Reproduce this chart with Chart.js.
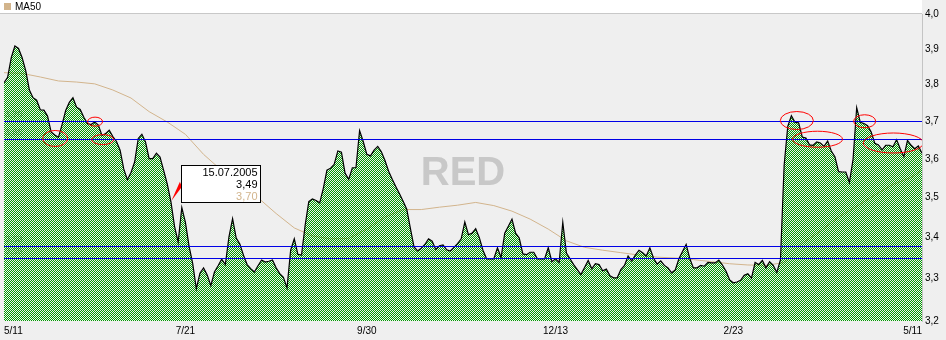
<!DOCTYPE html>
<html>
<head>
<meta charset="utf-8">
<title>RED</title>
<script src="https://cdn.jsdelivr.net/npm/chart.js@4.4.1/dist/chart.umd.min.js"></script>
<style>
html, body { margin: 0; padding: 0; background: #efefef; }
#wrap { width: 946px; height: 340px; }
canvas { display: block; }
</style>
</head>
<body>
<div id="wrap"><canvas id="redChart" width="946" height="340"></canvas></div>
<script>
// daily closes 11.05.2005 - 11.05.2006
var closes = [
    3.805, 3.820, 3.875, 3.908, 3.901, 3.875, 3.838, 3.785, 3.764, 3.757,
    3.731, 3.730, 3.714, 3.671, 3.663, 3.657, 3.691, 3.729, 3.751, 3.764,
    3.738, 3.732, 3.711, 3.694, 3.691, 3.698, 3.690, 3.662, 3.667, 3.676,
    3.659, 3.646, 3.623, 3.574, 3.546, 3.565, 3.592, 3.654, 3.665, 3.645,
    3.601, 3.601, 3.615, 3.605, 3.570, 3.535, 3.490, 3.428, 3.389, 3.475,
    3.438, 3.379, 3.337, 3.276, 3.313, 3.326, 3.309, 3.283, 3.316, 3.331,
    3.347, 3.334, 3.402, 3.447, 3.399, 3.384, 3.357, 3.334, 3.324, 3.316,
    3.331, 3.345, 3.340, 3.342, 3.345, 3.326, 3.312, 3.303, 3.278, 3.369,
    3.397, 3.359, 3.357, 3.431, 3.490, 3.497, 3.493, 3.487, 3.524, 3.571,
    3.576, 3.586, 3.621, 3.618, 3.563, 3.547, 3.577, 3.577, 3.675, 3.646,
    3.612, 3.608, 3.623, 3.633, 3.619, 3.596, 3.568, 3.547, 3.528, 3.510,
    3.491, 3.471, 3.423, 3.377, 3.367, 3.374, 3.383, 3.397, 3.391, 3.371,
    3.380, 3.382, 3.370, 3.367, 3.376, 3.385, 3.397, 3.439, 3.407, 3.411,
    3.422, 3.400, 3.369, 3.348, 3.348, 3.348, 3.375, 3.351, 3.411, 3.428,
    3.446, 3.411, 3.399, 3.360, 3.358, 3.364, 3.364, 3.348, 3.348, 3.348,
    3.375, 3.341, 3.348, 3.339, 3.438, 3.362, 3.348, 3.334, 3.322, 3.310,
    3.327, 3.344, 3.324, 3.336, 3.334, 3.319, 3.323, 3.307, 3.302, 3.302,
    3.322, 3.332, 3.355, 3.343, 3.357, 3.369, 3.363, 3.355, 3.375, 3.350,
    3.335, 3.343, 3.332, 3.326, 3.314, 3.321, 3.348, 3.366, 3.383, 3.349,
    3.326, 3.326, 3.332, 3.330, 3.339, 3.338, 3.338, 3.345, 3.333, 3.318,
    3.297, 3.290, 3.292, 3.296, 3.308, 3.312, 3.301, 3.339, 3.334, 3.344,
    3.326, 3.341, 3.332, 3.315, 3.346, 3.583, 3.686, 3.715, 3.697, 3.696,
    3.658, 3.655, 3.637, 3.636, 3.645, 3.642, 3.633, 3.647, 3.621, 3.606,
    3.567, 3.566, 3.566, 3.539, 3.599, 3.737, 3.697, 3.694, 3.688, 3.671,
    3.641, 3.637, 3.624, 3.636, 3.636, 3.632, 3.651, 3.627, 3.606, 3.649,
    3.636, 3.627, 3.634, 3.615
];

// MA50, read every 5th trading day
var maDays = [0, 5, 10, 15, 20, 25, 30, 35, 40, 45, 50, 55, 60, 65, 70, 75, 80, 85, 90, 95,
    100, 105, 110, 115, 120, 125, 130, 135, 140, 145, 150, 155, 160, 165, 170, 175, 180, 185, 190, 195,
    200, 205, 210, 215, 220, 225, 230, 235, 240, 245, 250, 253];
var ma50 = [3.833, 3.831, 3.821, 3.810, 3.807, 3.802, 3.785, 3.763, 3.726, 3.698,
    3.665, 3.612, 3.570, 3.531, 3.500, 3.460, 3.424, 3.404, 3.397, 3.398,
    3.421, 3.451, 3.470, 3.470, 3.476, 3.481, 3.488, 3.480, 3.466, 3.446,
    3.421, 3.392, 3.376, 3.369, 3.363, 3.357, 3.352, 3.350, 3.346, 3.341,
    3.336, 3.333, 3.332, 3.339, 3.386, 3.416, 3.451, 3.478, 3.507, 3.534,
    3.552, 3.571];

var tickDays = [0, 50, 100, 152, 201, 253];
var tickLabels = ['5/11', '7/21', '9/30', '12/13', '2/23', '5/11'];
var yTicks = [3.2, 3.3, 3.4, 3.5, 3.6, 3.7, 3.8, 3.9, 4.0];

// horizontal support / resistance levels
var levels = [3.70, 3.652, 3.38, 3.35];

// red rings drawn on the chart
var ringDays = [14.1, 25.1, 27.2, 218.5, 224.2, 237.2, 245.1];
var ringValues = [3.654, 3.699, 3.651, 3.702, 3.652, 3.700, 3.642];
var ringSizes = [[12.5, 8], [7.5, 4.5], [11, 5], [16.5, 9], [25, 8], [11, 6.5], [30, 10]];

// the fixed info box
var tipDay = 46;
var tipDate = '15.07.2005';
var tipMa = 3.70;

var watermark = 'RED';
var maColor = '#d2b48c';
var fontFam = '"Liberation Sans", Arial, sans-serif';

function fmt(v, d) {
    return v.toFixed(d).replace('.', ',');
}

var canvas = document.getElementById('redChart');
var ctx0 = canvas.getContext('2d');

// 1px green checker on the odd pixels, the rest left open
var pc = document.createElement('canvas');
pc.width = 2; pc.height = 2;
var pg = pc.getContext('2d');
pg.fillStyle = '#009c00';
pg.fillRect(1, 0, 1, 1);
pg.fillRect(0, 1, 1, 1);
var checker = ctx0.createPattern(pc, 'repeat');

var extras = {
    id: 'extras',
    beforeDatasetsDraw: function (chart) {
        var ctx = chart.ctx, a = chart.chartArea, ys = chart.scales.y;
        ctx.save();
        ctx.font = 'bold 40px ' + fontFam;
        ctx.fillStyle = '#c8c8c8';
        ctx.textAlign = 'center';
        ctx.textBaseline = 'alphabetic';
        ctx.fillText(watermark, (a.left + a.right) / 2, (a.top + a.bottom) / 2 + 17);

        // faint level values at the left
        ctx.font = '9px ' + fontFam;
        ctx.fillStyle = '#a8a8a8';
        ctx.textAlign = 'left';
        ctx.textBaseline = 'bottom';
        levels.forEach(function (v) {
            ctx.fillText(fmt(v, 2), a.left + 1, ys.getPixelForValue(v) - 2);
        });
        ctx.restore();
    },
    afterDatasetsDraw: function (chart) {
        var ctx = chart.ctx, a = chart.chartArea, xs = chart.scales.x, ys = chart.scales.y;
        ctx.save();
        ctx.beginPath();
        ctx.rect(a.left, a.top, a.right - a.left, a.bottom - a.top);
        ctx.clip();

        ctx.strokeStyle = '#0000e6';
        ctx.lineWidth = 1;
        levels.forEach(function (v) {
            var py = Math.round(ys.getPixelForValue(v)) + 0.5;
            ctx.beginPath();
            ctx.moveTo(a.left, py);
            ctx.lineTo(a.right, py);
            ctx.stroke();
        });

        ctx.strokeStyle = '#ff0000';
        for (var i = 0; i < ringDays.length; i++) {
            ctx.beginPath();
            ctx.ellipse(xs.getPixelForValue(ringDays[i]), ys.getPixelForValue(ringValues[i]),
                ringSizes[i][0], ringSizes[i][1], 0, 0, Math.PI * 2);
            ctx.stroke();
        }

        // info box with pointer
        var px = xs.getPixelForValue(tipDay), py = ys.getPixelForValue(closes[tipDay]);
        ctx.fillStyle = '#ff0000';
        ctx.beginPath();
        ctx.moveTo(px + 0.5, py - 1);
        ctx.lineTo(px + 9, py - 20);
        ctx.lineTo(px + 11, py - 15);
        ctx.closePath();
        ctx.fill();

        var bx = Math.round(px) + 10.5, by = Math.round(py) - 36.5, bw = 79, bh = 37;
        ctx.fillStyle = '#ffffff';
        ctx.fillRect(bx, by, bw, bh);
        ctx.strokeStyle = '#000000';
        ctx.strokeRect(bx, by, bw, bh);
        ctx.font = '11px ' + fontFam;
        ctx.textAlign = 'right';
        ctx.textBaseline = 'middle';
        ctx.fillStyle = '#000000';
        ctx.fillText(tipDate, bx + bw - 3, by + 7.5);
        ctx.fillText(fmt(closes[tipDay], 2), bx + bw - 3, by + 19.5);
        ctx.fillStyle = maColor;
        ctx.fillText(fmt(tipMa, 2), bx + bw - 3, by + 31.5);
        ctx.restore();
    },
    afterDraw: function (chart) {
        var ctx = chart.ctx, a = chart.chartArea;
        ctx.save();
        ctx.fillStyle = '#ffffff';
        ctx.fillRect(0, 0, a.right, 13);
        ctx.strokeStyle = '#c8c8c8';
        ctx.beginPath();
        ctx.moveTo(0, 13.5);
        ctx.lineTo(a.right, 13.5);
        ctx.stroke();
        ctx.fillStyle = maColor;
        ctx.fillRect(4, 3, 7, 7);
        ctx.fillStyle = '#000000';
        ctx.font = '10px ' + fontFam;
        ctx.textAlign = 'left';
        ctx.textBaseline = 'middle';
        ctx.fillText('MA50', 15, 7);
        ctx.restore();
    }
};

var config = {
    type: 'line',
    data: {
        datasets: [{
            label: 'RED',
            data: closes.map(function (v, i) { return { x: i, y: v }; }),
            borderColor: '#000000',
            borderWidth: 1.2,
            backgroundColor: checker,
            fill: 'start',
            pointRadius: 0,
            tension: 0,
            order: 0
        }, {
            label: 'MA50',
            data: ma50.map(function (v, k) { return { x: maDays[k], y: v }; }),
            borderColor: maColor,
            borderWidth: 1,
            fill: false,
            pointRadius: 0,
            tension: 0,
            order: 1
        }]
    },
    options: {
        responsive: false,
        devicePixelRatio: 1,
        animation: false,
        events: [],
        layout: { padding: { top: 14, left: 0, right: 0, bottom: 0 } },
        plugins: {
            legend: { display: false },
            tooltip: { enabled: false }
        },
        scales: {
            x: {
                type: 'linear',
                min: 0,
                max: closes.length - 1,
                grid: { display: false, drawTicks: false },
                border: { display: false },
                afterBuildTicks: function (s) {
                    s.ticks = tickDays.map(function (d) { return { value: d }; });
                },
                afterFit: function (s) { s.height = 19; },
                ticks: {
                    align: 'inner',
                    autoSkip: false,
                    maxRotation: 0,
                    padding: 4,
                    color: '#000000',
                    font: { size: 10, family: fontFam },
                    callback: function (v, idx) { return tickLabels[idx]; }
                }
            },
            y: {
                type: 'logarithmic',
                position: 'right',
                min: 3.2,
                max: 4.0,
                grid: { display: false, drawTicks: false },
                border: { display: true, color: '#c4c4c4' },
                afterBuildTicks: function (s) {
                    s.ticks = yTicks.map(function (v) { return { value: v }; });
                },
                afterFit: function (s) { s.width = 24; },
                ticks: {
                    padding: 3,
                    color: '#000000',
                    font: { size: 10, family: fontFam },
                    callback: function (v) { return fmt(v, 1); }
                }
            }
        }
    },
    plugins: [extras]
};

window.redChart = new Chart(ctx0, config);
</script>
</body>
</html>
